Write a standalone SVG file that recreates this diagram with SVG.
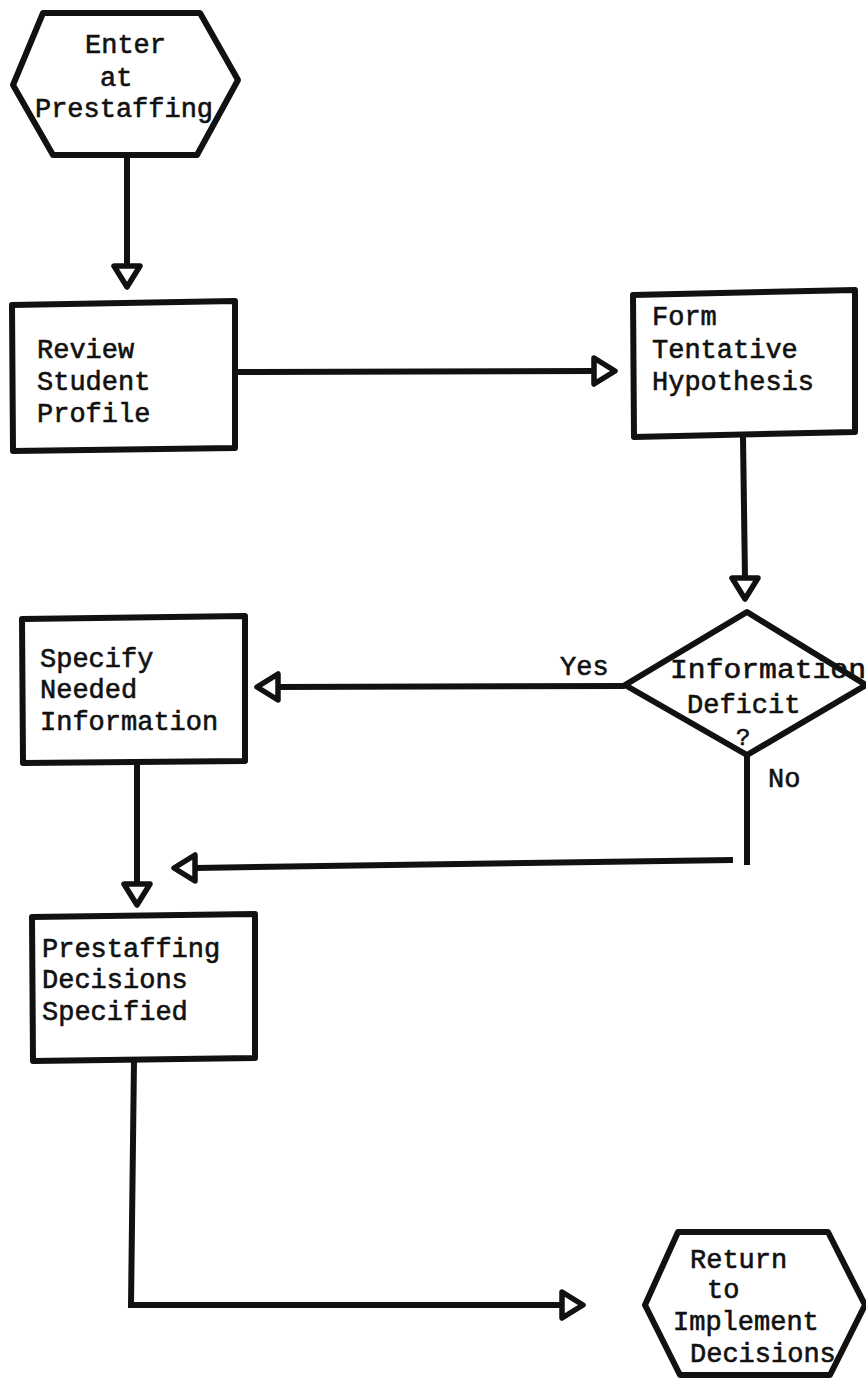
<svg xmlns="http://www.w3.org/2000/svg" width="866" height="1378" viewBox="0 0 866 1378">
  <defs>
    <style>
      .shape { fill: #fff; stroke: #111; stroke-width: 6; stroke-linejoin: round; }
      .wire { fill: none; stroke: #111; stroke-width: 6; stroke-linecap: butt; }
      .label { font-family: "Liberation Mono", "DejaVu Sans Mono", monospace; font-size: 27px; fill: #111; stroke: #111; stroke-width: 0.6; }
      .tip { fill: #fff; stroke: #111; stroke-width: 5.5; stroke-linejoin: round; }
    </style>
    <!-- open triangular arrowhead, tip at origin, pointing down -->
    <path id="head" d="M-13,-21 L13,-21 L0,0 Z"/>
  </defs>

  <rect width="866" height="1378" fill="#fff"/>

  <!-- connectors -->
  <g id="connectors">
    <line class="wire" x1="127" y1="155" x2="127" y2="268"/>
    <use href="#head" class="tip" transform="translate(127,287)"/>

    <line class="wire" x1="235" y1="372" x2="595" y2="371"/>
    <use href="#head" class="tip" transform="translate(615,371) rotate(-90)"/>

    <line class="wire" x1="743" y1="437" x2="745" y2="579"/>
    <use href="#head" class="tip" transform="translate(745,599)"/>

    <line class="wire" x1="625" y1="686" x2="276" y2="687"/>
    <use href="#head" class="tip" transform="translate(257,687) rotate(90)"/>
    <text class="label" x="560" y="675">Yes</text>

    <line class="wire" x1="137" y1="762" x2="137" y2="886"/>
    <use href="#head" class="tip" transform="translate(137,905)"/>

    <line class="wire" x1="747" y1="755" x2="747" y2="865"/>
    <line class="wire" x1="733" y1="860" x2="195" y2="868"/>
    <use href="#head" class="tip" transform="translate(174,868) rotate(90)"/>
    <text class="label" x="768" y="787">No</text>

    <polyline class="wire" points="134,1060 131,1305 564,1305"/>
    <use href="#head" class="tip" transform="translate(583,1305) rotate(-90)"/>
  </g>

  <!-- start terminal -->
  <g id="enter">
    <polygon class="shape" points="43,13 200,13 238,80 197,155 53,155 13,85"/>
    <text class="label" x="85" y="53">Enter</text>
    <text class="label" x="100" y="86">at</text>
    <text class="label" x="35" y="117" textLength="178" lengthAdjust="spacingAndGlyphs">Prestaffing</text>
  </g>

  <g id="review">
    <polygon class="shape" points="12,305 235,301 235,448 13,451"/>
    <text class="label" x="37" y="358">Review</text>
    <text class="label" x="37" y="390">Student</text>
    <text class="label" x="37" y="422">Profile</text>
  </g>

  <g id="form">
    <polygon class="shape" points="633,295 855,290 855,432 634,437"/>
    <text class="label" x="652" y="325">Form</text>
    <text class="label" x="652" y="358">Tentative</text>
    <text class="label" x="652" y="390">Hypothesis</text>
  </g>

  <g id="deficit">
    <polygon class="shape" points="747,612 866,685 747,755 625,685"/>
    <text class="label" x="670" y="678" textLength="196" lengthAdjust="spacingAndGlyphs">Information</text>
    <text class="label" x="687" y="713">Deficit</text>
    <text class="label" x="736" y="745" style="font-size:24px">?</text>
  </g>

  <g id="specify">
    <polygon class="shape" points="22,619 245,616 245,761 23,763"/>
    <text class="label" x="40" y="667">Specify</text>
    <text class="label" x="40" y="698">Needed</text>
    <text class="label" x="40" y="730">Information</text>
  </g>

  <g id="prestaffing">
    <polygon class="shape" points="32,917 255,914 255,1058 33,1061"/>
    <text class="label" x="42" y="957">Prestaffing</text>
    <text class="label" x="42" y="988">Decisions</text>
    <text class="label" x="42" y="1020">Specified</text>
  </g>

  <!-- exit terminal -->
  <g id="return">
    <polygon class="shape" points="678,1232 828,1232 865,1305 830,1375 680,1375 645,1305"/>
    <text class="label" x="690" y="1268">Return</text>
    <text class="label" x="707" y="1298">to</text>
    <text class="label" x="673" y="1330">Implement</text>
    <text class="label" x="690" y="1362">Decisions</text>
  </g>
</svg>
